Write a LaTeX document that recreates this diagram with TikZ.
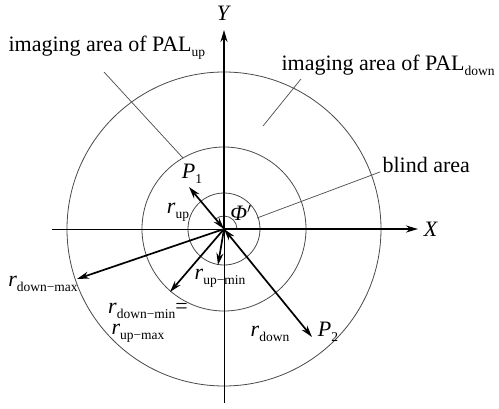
\documentclass[tikz,border=0pt]{standalone}
\usepackage{fontspec}
\setmainfont{Liberation Serif}
\usetikzlibrary{arrows.meta, positioning}
\definecolor{ringgray}{HTML}{4a4a4a}
\newcommand{\lowsub}[1]{\raisebox{-5pt}{\fontsize{13.5}{15}\selectfont #1}}

\begin{document}
\begin{tikzpicture}[x=1pt, y=1pt, font=\fontsize{22}{26}\selectfont,
	ring/.style={draw=ringgray, line width=0.8pt},
	leader/.style={draw=ringgray, line width=0.7pt},
	thinaxis/.style={line width=0.9pt},
	onehead/.style={line width=1.7pt, -{Stealth[length=12pt, width=7pt]}},
	twohead/.style={line width=1.7pt, {Stealth[length=12pt, width=7pt]}-{Stealth[length=12pt, width=7pt]}}]
	\useasboundingbox (-224,-179) rectangle (275,229);
	\coordinate (O) at (0,0);
	\draw[ring] (O) circle (36pt) (O) circle (82pt) (O) circle (157pt);
	\draw[ring] (13,0) arc (0:130:13);
	\coordinate (xl) at (-172,0);
	\coordinate (xr) at (194,0);
	\coordinate (yb) at (0,-174);
	\coordinate (yt) at (0,199);
	\draw[thinaxis] (xl) -- (O);
	\draw[thinaxis] (yb) -- (O);
	\draw[onehead] (O) -- (xr);
	\draw[onehead] (O) -- (yt);
	\node (xlab) at (207,0) {\textit{X}};
	\node (ylab) at (0,216) {\textit{Y}};
	\coordinate (P1) at (-35,42);
	\coordinate (P2) at (88,-108);
	\coordinate (dmax) at (-147,-50);
	\coordinate (dmin) at (-54,-63);
	\coordinate (umin) at (-6,-36);
	\draw[twohead] (O) -- (P1);
	\draw[twohead] (O) -- (P2);
	\draw[onehead] (O) -- (dmax);
	\draw[onehead] (O) -- (dmin);
	\draw[onehead] (O) -- (umin);
	\node (p1lab) at (-32,55) {\textit{P}\lowsub{1}};
	\node (p2lab) at (104,-103) {\textit{P}\lowsub{2}};
	\node (ruplab) at (-46,17) {\textit{r}\lowsub{up}};
	\node (philab) at (17,16) {\textit{Φ}$'$};
	\node (uminlab) at (-4,-49) {\textit{r}\lowsub{up−min}};
	\node (dmaxlab) at (-181,-55) {\textit{r}\lowsub{down−max}};
	\node (dminlab) at (-76,-82) {\textit{r}\lowsub{down−min}=};
	\node (umaxlab) at (-86,-104) {\textit{r}\lowsub{up−max}};
	\node (rdownlab) at (46,-105) {\textit{r}\lowsub{down}};
	\node[anchor=west] (uparea) at (-219,181) {imaging area of PAL\lowsub{up}};
	\node[anchor=west] (downarea) at (54,164) {imaging area of PAL\lowsub{down}};
	\node[anchor=west] (blind) at (155,64) {blind area};
	\coordinate (upa) at (-120,157);
	\coordinate (upb) at (-41,71);
	\coordinate (dna) at (77,150);
	\coordinate (dnb) at (39,103);
	\coordinate (bla) at (156,57);
	\coordinate (blb) at (33,11);
	\draw[leader] (upa) -- (upb);
	\draw[leader] (dna) -- (dnb);
	\draw[leader] (bla) -- (blb);
\end{tikzpicture}
\end{document}
